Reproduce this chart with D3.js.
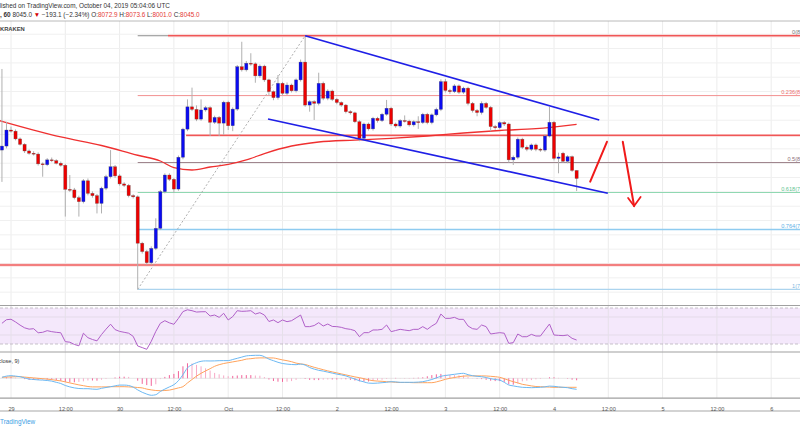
<!DOCTYPE html>
<html><head><meta charset="utf-8">
<script src="https://cdn.jsdelivr.net/npm/d3@7"></script>
<style>
html,body{margin:0;padding:0;background:#fff;overflow:hidden}
svg{display:block;font-family:"Liberation Sans",Arial,sans-serif}
</style>
</head><body>
<svg id="chart" width="800" height="430"></svg>
<script>
// ---------------- DATA ----------------
const firstHour = -2; // first candle: Sep 28 22:00 UTC (hours from Sep 29 00:00)
const opens = [8144,8158,8214,8210,8183,8164,8141,8133,8130,8096,8093,8110,8107,8098,8091,8007,8005,7978,7964,8037,7993,7985,7958,8011,8051,8086,8054,8026,8021,7985,7981,7819,7790,7751,7801,7871,7999,8057,8042,8008,8119,8217,8295,8286,8252,8284,8292,8241,8258,8238,8311,8229,8287,8435,8424,8447,8445,8403,8437,8389,8348,8327,8377,8342,8371,8351,8389,8451,8301,8313,8307,8377,8325,8350,8321,8310,8301,8278,8274,8243,8185,8235,8218,8255,8247,8269,8290,8235,8228,8247,8245,8232,8243,8240,8269,8240,8267,8286,8383,8352,8348,8368,8346,8360,8307,8282,8275,8307,8293,8226,8222,8240,8235,8110,8119,8182,8154,8147,8162,8147,8144,8193,8241,8115,8133,8105,8121,8072.9];
const highs = [8427,8243,8226,8216,8188,8168,8146,8140,8136,8101,8116,8118,8112,8104,8096,8057,8012,7985,8043,8045,8000,7991,8016,8058,8144,8092,8060,8032,8026,7990,7986,7824,7796,7808,7906,8005,8063,8063,8047,8125,8222,8321,8362,8300,8321,8298,8297,8264,8263,8316,8316,8293,8441,8522,8455,8482,8450,8443,8442,8393,8352,8406,8382,8380,8376,8394,8460,8543,8318,8318,8414,8383,8356,8355,8326,8314,8305,8283,8278,8248,8240,8240,8260,8260,8274,8319,8295,8240,8252,8265,8250,8248,8262,8274,8274,8272,8292,8391,8392,8358,8374,8373,8365,8365,8312,8287,8314,8312,8298,8232,8245,8245,8240,8125,8188,8187,8160,8167,8167,8152,8199,8295,8246,8135,8138,8126,8125,8073.6];
const lows = [8033,8150,8205,8178,8160,8134,8128,8125,8090,8051,8088,8102,8094,8086,7912,7998,7972,7912,7958,7986,7978,7923,7923,8004,8045,8047,8020,8015,7979,7975,7658,7783,7744,7743,7795,7865,7993,8036,7995,8002,8112,8210,8280,8245,8246,8278,8193,8235,8193,8197,8214,8210,8281,8418,8418,8438,8379,8396,8382,8335,8318,8320,8335,8336,8345,8345,8383,8295,8278,8249,8300,8318,8318,8315,8304,8295,8272,8268,8238,8175,8178,8212,8212,8240,8242,8264,8228,8222,8222,8240,8226,8226,8218,8235,8234,8234,8262,8280,8345,8340,8343,8340,8340,8300,8275,8262,8268,8288,8210,8215,8217,8228,8100,8092,8112,8148,8140,8141,8140,8138,8138,8188,8108,8063,8100,8098,8068,8001.0];
const closes = [8158,8214,8210,8183,8164,8141,8133,8130,8096,8093,8110,8107,8098,8091,8007,8005,7978,7964,8037,7993,7985,7958,8011,8051,8086,8054,8026,8021,7985,7981,7819,7790,7751,7801,7871,7999,8057,8042,8008,8119,8217,8295,8286,8252,8284,8292,8241,8258,8238,8311,8229,8287,8435,8424,8447,8445,8403,8437,8389,8348,8327,8377,8342,8371,8351,8389,8451,8301,8313,8307,8377,8325,8350,8321,8310,8301,8278,8274,8243,8185,8235,8218,8255,8247,8269,8290,8235,8228,8247,8245,8232,8243,8240,8269,8240,8267,8286,8383,8352,8348,8368,8346,8360,8307,8282,8275,8307,8293,8226,8222,8240,8235,8110,8119,8182,8154,8147,8162,8147,8144,8193,8241,8115,8120,8105,8121,8073,8045.0];

// moving average (red curve), read as [hour, price]
const maPoints = [[-3,8249],[-2,8244.5],[5,8214],[11,8189.7],[20,8160],[28,8126],[33,8106],[36,8083],[40,8074.6],[44,8085],[48,8093.8],[52,8109.5],[56,8132],[62,8158.3],[68,8172.3],[76,8179],[84,8185],[92,8193.2],[100,8203.7],[108,8212.4],[116,8219],[125,8234]];

const rsiValues = [53,57,57.5,54.5,51,48,46.5,47,42.5,43,44.8,43.7,43,42.5,32.6,32,29.5,28,42,37,35,33.5,40.5,46.5,52,46,44,43,42,38.5,27.8,26,24.1,33,44,53,55.9,53.5,51.9,58.5,66,68,67,65.5,65.8,65.9,61.1,62.2,59.6,64.1,56.7,60.4,67,66.3,66.5,67,63.3,64.8,62.2,55,56.7,53.7,56.7,54.8,55.9,59,62.2,49.3,49.3,50.5,53.7,50,52.2,49.5,49.3,48.5,47,46.3,44.8,38.1,42.6,42.6,45.6,45.6,46.3,51.1,43.7,45,46.3,45.5,44.8,46.3,46.3,49.3,46.3,50,53,63.3,58.5,58.5,59.6,57.4,57.4,50,47,46.3,51.1,49.3,41.1,41.9,42.6,42,30.7,31.5,41.1,38.1,38.1,40.7,38.9,38.9,45.6,52.2,40,39.6,39.3,40,36.3,34.4];

const macdValues = [2.5,5.5,6.5,5.5,4,1,-2,-3,-4,-4.5,-5.5,-7,-10,-13,-18,-21.5,-24,-25.5,-26,-26,-27,-27.5,-25,-23,-21,-19,-17,-17,-18,-22,-29,-35,-39.5,-42.5,-41,-33,-27,-21.5,-16,-6,9,26,34,39,42.5,43.5,43.3,43.5,44,44.2,44.2,47,50,53,56,57,57.5,57.5,54,48,44,40,37,35.5,34.5,34,35.5,33,27,23,20,18,15.5,13,10.5,8.5,6,2,-2,-6,-9,-12,-12.5,-12,-11,-10,-8.5,-9,-10,-10,-10,-10,-9.5,-8.5,-6,-3,1,5,7,8.5,10,11.5,12.5,9,6.5,5,4,2,-1,-3,-4.5,-10,-16.7,-19,-21,-22.5,-23,-23.5,-23,-22.5,-21.5,-19.5,-20,-21.5,-22.5,-23.5,-26,-27.5];
const signalValues = [2.5,3,3.5,4,4,3,2,1,0,-1,-2,-3.5,-5,-6.5,-9,-11.5,-14,-16.5,-18.5,-20.5,-21.5,-21.5,-21.5,-21.5,-21,-21,-21,-21,-21.5,-22,-23,-24,-27,-29,-30.5,-31,-30.5,-29.5,-27,-24,-21,-11.6,-3,5.5,12.5,18.5,24,30,34,37,39,41,43,45,48,49,50.5,51,51,51,50.8,48.5,46,44,41.5,38,36,34.5,31,27.5,24.5,21.5,18.5,16,13.5,11,8.5,6,3.5,1.5,-1,-4,-6,-7,-7.5,-8.5,-9,-10,-10.5,-10.5,-10.5,-11,-11,-11,-11,-11,-9,-6,-2.5,0,2,4,5.5,6,6,6,6,5.8,5,4,2.5,-1,-5,-8.5,-11.5,-15,-17,-19,-20.5,-21,-21.5,-22,-22.5,-22.5,-22.5,-22.5,-22.5,-22.5];
const histValues = [0,2.5,3,1.5,0,-2,-4,-4,-4,-3.5,-3.5,-3.5,-5,-6.5,-9,-10,-10,-9,-7.5,-5.5,-5.5,-6,-3.5,-1.5,0,2,4,4,3.5,0,-6,-14,-17,-19,-15,-2,3.5,8,11,18,30,37.6,37,33.5,30,25,19.3,13.5,10,7.2,5.2,6,7,8,8,8,7,6.5,3,-3,-6.8,-8.5,-9,-8.5,-7,-4,-0.5,-1.5,-4,-4.5,-4.5,-3.5,-3,-3,-3,-2.5,-2.5,-4,-5.5,-7.5,-8,-8,-6.5,-5,-3.5,-1.5,0.5,1,0.5,0.5,0.5,1,1.5,2.5,5,8,10,11,9.5,8.5,8,7.5,7,3,0.5,-1,-2,-3.8,-6,-7,-7,-9,-15,-16,-13,-7.5,-6,-4.5,-2.5,-1.5,0,2.5,2.5,1,0,-1,-3.5,-5];

const tickHours = [0,12,24,36,48,60,72,84,96,108,120,132,144,156,168];
const tickLabels = ["29","12:00","30","12:00","Oct","12:00","2","12:00","3","12:00","4","12:00","5","12:00","6"];

const fibLowPrice = 7658, fibHighPrice = 8543, fibStartHour = 28;
const fibLevels = [0, 0.236, 0.5, 0.618, 0.764, 1];
const fibLineColors = ["#8e8e8e","#f29090","#9c8089","#8fd8b2","#8ecbf0","#acd4ee"];
const fibTextColors = ["#777777","#ee6f6f","#8a6f78","#5fc592","#5eb0e6","#7fb8e0"];

const redLevels = [ {price: 8543, from: 34.7}, {price: 8195.6, from: 38.7}, {price: 7743, from: -5} ];
const channelUpper = [[65, 8543], [130, 8249]];
const channelLower = [[56.8, 8252.5], [131.9, 7993.3]];
const fibDiagonal = [[28, 7658], [65, 8543]];
const arrowUp = [[128, 8034], [131.7, 8173]];
const arrowDown = [[135.2, 8173], [137.7, 7949]];

// ---------------- DRAW ----------------
const W = 800, H = 430;
const svg = d3.select("#chart");
const x = d3.scaleLinear().domain([0, 120]).range([11, 554]);
const yMain = d3.scaleLinear().domain([7600, 8600]).range([306, 19.4]);
const yRsi = d3.scaleLinear().domain([30, 70]).range([344, 308]);
const yMacd = d3.scaleLinear().domain([-49.25, 65.75]).range([398, 352]);

const panes = {main:[21,305], rsi:[306,351.5], macd:[352.5,398]};
const defs = svg.append("defs");
Object.entries(panes).forEach(([k,[a,b]]) => {
  defs.append("clipPath").attr("id","clip-"+k).append("rect").attr("x",0).attr("y",a).attr("width",W).attr("height",b-a);
});

// header texts
const hdr = svg.append("g").attr("font-size", 6.4).attr("fill", "#333");
hdr.append("text").attr("x", 170).attr("y", 8.3).attr("text-anchor","end")
  .text("Published on TradingView.com, October 04, 2019 05:04:06 UTC");
const l2 = hdr.append("text").attr("x", 0).attr("y", 17.2);
l2.append("tspan").attr("font-weight","bold").text(", 60 ");
l2.append("tspan").text(" 8045.0 ");
l2.append("tspan").attr("fill","#d50000").text("▼");
l2.append("tspan").text(" −193.1 (−2.34%) O:");
l2.append("tspan").attr("fill","#e53935").text("8072.9");
l2.append("tspan").text(" H:");
l2.append("tspan").attr("fill","#e53935").text("8073.6");
l2.append("tspan").text(" L:");
l2.append("tspan").attr("fill","#e53935").text("8001.0");
l2.append("tspan").text(" C:");
l2.append("tspan").attr("fill","#e53935").text("8045.0");

const hours = d3.range(opens.length).map(i => firstHour + i);

// vertical grid
svg.append("g").selectAll("line").data(tickHours).join("line")
  .attr("x1", d => x(d)).attr("x2", d => x(d)).attr("y1", 21).attr("y2", 398)
  .attr("stroke", "#ececec").attr("stroke-width", 1);
// main horizontal grid via axis
const mainGrid = svg.append("g").attr("clip-path","url(#clip-main)")
  .call(d3.axisLeft(yMain).tickValues(d3.range(7600, 8601, 50)).tickSize(-W).tickFormat(""));
mainGrid.select(".domain").remove();
mainGrid.selectAll(".tick line").attr("stroke", "#f0f0f0");

// RSI pane
const rsiG = svg.append("g").attr("clip-path","url(#clip-rsi)");
rsiG.append("rect").attr("x",0).attr("width",W).attr("y", yRsi(70)).attr("height", yRsi(30)-yRsi(70)).attr("fill","#f4e8fb");
[40,60].forEach(v => rsiG.append("line").attr("x1",0).attr("x2",W).attr("y1",yRsi(v)).attr("y2",yRsi(v)).attr("stroke","#e4dbe9").attr("stroke-width",1));
tickHours.forEach(h => rsiG.append("line").attr("x1",x(h)).attr("x2",x(h)).attr("y1",306).attr("y2",351).attr("stroke","#e6e0ea"));
[30,70].forEach(v => rsiG.append("line").attr("x1",0).attr("x2",W).attr("y1",yRsi(v)).attr("y2",yRsi(v)).attr("stroke","#b9b2bd").attr("stroke-dasharray","3,2").attr("stroke-width",0.8));
rsiG.append("path").datum(rsiValues)
  .attr("d", d3.line().x((d,i)=>x(hours[i])).y(d=>yRsi(d)))
  .attr("fill","none").attr("stroke","#b060c8").attr("stroke-width",1);

// MACD pane
const macdG = svg.append("g").attr("clip-path","url(#clip-macd)");
macdG.append("line").attr("x1",0).attr("x2",W).attr("y1",yMacd(0)).attr("y2",yMacd(0)).attr("stroke","#e6e6e6");
macdG.selectAll("line.h").data(histValues).join("line")
  .attr("x1",(d,i)=>x(hours[i])).attr("x2",(d,i)=>x(hours[i]))
  .attr("y1", yMacd(0)).attr("y2", d => yMacd(d))
  .attr("stroke", (d,i) => (i>0 && Math.abs(d) >= Math.abs(histValues[i-1])) ? "#f2649a" : "#f7a9c6")
  .attr("stroke-width", 1);
macdG.append("path").datum(signalValues)
  .attr("d", d3.line().x((d,i)=>x(hours[i])).y(d=>yMacd(d)).curve(d3.curveMonotoneX))
  .attr("fill","none").attr("stroke","#ffa35c").attr("stroke-width",1);
macdG.append("path").datum(macdValues)
  .attr("d", d3.line().x((d,i)=>x(hours[i])).y(d=>yMacd(d)).curve(d3.curveMonotoneX))
  .attr("fill","none").attr("stroke","#6cb8f2").attr("stroke-width",1);
svg.append("text").attr("x", 19.5).attr("y", 363).attr("text-anchor","end").attr("font-size",5.6).attr("fill","#333")
  .text("MACD (12, 26, close, 9)");

// MAIN pane content
const main = svg.append("g").attr("clip-path","url(#clip-main)");

// fib levels
fibLevels.forEach((lv, k) => {
  const p = fibHighPrice - lv * (fibHighPrice - fibLowPrice);
  main.append("line").attr("x1", x(fibStartHour)).attr("x2", W+50).attr("y1", yMain(p)).attr("y2", yMain(p))
    .attr("stroke", fibLineColors[k]).attr("stroke-width", k>=4 ? 1.4 : 1);
});

// red horizontal levels
redLevels.forEach(r => {
  main.append("line").attr("x1", x(r.from)).attr("x2", W+50).attr("y1", yMain(r.price)).attr("y2", yMain(r.price))
    .attr("stroke", "#fad2d2").attr("stroke-width", 2.8);
  main.append("line").attr("x1", x(r.from)).attr("x2", W+50).attr("y1", yMain(r.price)).attr("y2", yMain(r.price))
    .attr("stroke", "#ec2d2d").attr("stroke-width", 1.1);
});

// fib labels (right edge, partly outside the visible area like the reference)
fibLevels.forEach((lv, k) => {
  const p = fibHighPrice - lv * (fibHighPrice - fibLowPrice);
  svg.append("text").attr("x", 816).attr("y", yMain(p) - 1.6).attr("text-anchor","end")
    .attr("font-size", 5.6).attr("fill", fibTextColors[k]).text(`${lv}(${p.toFixed(1)})`);
});

// dashed fib diagonal
main.append("path").datum(fibDiagonal)
  .attr("d", d3.line().x(d=>x(d[0])).y(d=>yMain(d[1])))
  .attr("stroke","#a5a5a5").attr("stroke-width",0.9).attr("stroke-dasharray","2,2").attr("fill","none");

// moving average
main.append("path").datum(maPoints)
  .attr("d", d3.line().x(d=>x(d[0])).y(d=>yMain(d[1])).curve(d3.curveMonotoneX))
  .attr("fill","none").attr("stroke","#ef3030").attr("stroke-width",1.3);

// candles
const cg = main.append("g");
cg.selectAll("line.w").data(hours).join("line")
  .attr("x1", h=>x(h)).attr("x2", h=>x(h))
  .attr("y1", (h,i)=>yMain(highs[i])).attr("y2", (h,i)=>yMain(lows[i]))
  .attr("stroke", "#b0b0b0").attr("stroke-width", 1);
cg.selectAll("rect.b").data(hours).join("rect")
  .attr("x", h => x(h) - 1.6).attr("width", 3.2)
  .attr("y", (h,i) => yMain(Math.max(opens[i], closes[i])))
  .attr("height", (h,i) => Math.max(0.9, Math.abs(yMain(opens[i]) - yMain(closes[i]))))
  .attr("fill", (h,i) => closes[i] >= opens[i] ? "#0b0bf0" : "#ec0000")
  .attr("stroke", "rgba(70,70,70,0.55)").attr("stroke-width", 0.5);

// channel lines
[channelUpper, channelLower].forEach(c => {
  main.append("path").datum(c).attr("d", d3.line().x(d=>x(d[0])).y(d=>yMain(d[1])))
    .attr("stroke","#1f1fe6").attr("stroke-width",1.7).attr("fill","none");
});

// red arrows
[arrowUp, arrowDown].forEach(a => {
  main.append("path").datum(a).attr("d", d3.line().x(d=>x(d[0])).y(d=>yMain(d[1])))
    .attr("stroke","#f01a1a").attr("stroke-width",2).attr("fill","none").attr("stroke-linecap","round");
});
const tip = arrowDown[1];
const tx = x(tip[0]), ty = yMain(tip[1]);
main.append("path").attr("d", `M${tx-6},${ty-8}L${tx},${ty}L${tx+6.5},${ty-9}`)
  .attr("stroke","#f01a1a").attr("stroke-width",1.8).attr("fill","none").attr("stroke-linecap","round");

svg.append("text").attr("x", 0).attr("y", 31.3).attr("font-size", 5.8).attr("fill", "#444").attr("font-weight","bold").text("KRAKEN");

// separators
svg.append("line").attr("x1",0).attr("x2",W).attr("y1",21).attr("y2",21).attr("stroke","#a8a8a8").attr("stroke-width",0.8);
[305.5, 352, 398.2].forEach(yy => svg.append("line").attr("x1",0).attr("x2",W).attr("y1",yy).attr("y2",yy).attr("stroke","#a0a0a0").attr("stroke-width",1.2));
svg.append("line").attr("x1",0).attr("x2",W).attr("y1",411).attr("y2",411).attr("stroke","#c4c4c4").attr("stroke-width",1.4);

// time axis
const ax = svg.append("g").attr("transform","translate(0,398)")
  .call(d3.axisBottom(x).tickValues(tickHours).tickSize(0).tickPadding(9.5).tickFormat((d,i)=>tickLabels[i]));
ax.select(".domain").remove();
ax.selectAll("text").attr("font-size",5.6).attr("fill","#555").attr("font-family","Liberation Sans, Arial, sans-serif");

svg.append("text").attr("x", 0).attr("y", 423.5).attr("font-size", 6.4).attr("fill", "#3b9ee4").text("TradingView");
</script>
</body></html>
